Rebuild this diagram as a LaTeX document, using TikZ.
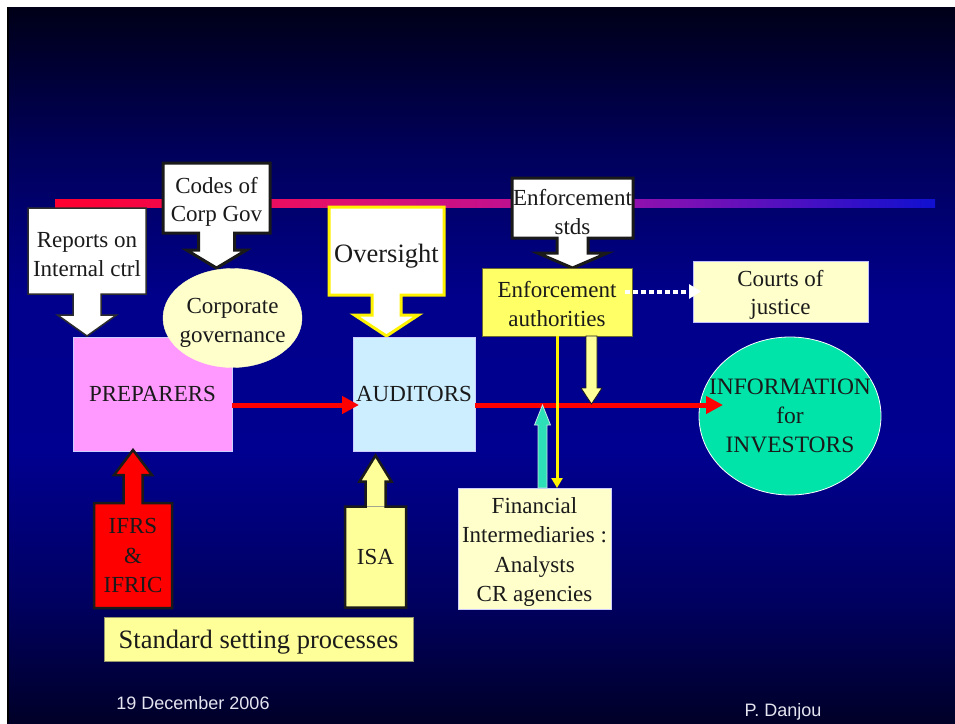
\documentclass[tikz,border=0pt]{standalone}
\usepackage{fontspec}
\setmainfont{Liberation Serif}
\newfontfamily\footfont{Liberation Sans}
\usetikzlibrary{calc,arrows.meta,shapes.geometric}

% palette
\definecolor{ink}{HTML}{1A1A1A}
\definecolor{bgA}{RGB}{0,0,24}
\definecolor{bgB}{RGB}{0,0,90}
\definecolor{bgC}{RGB}{0,0,140}
\definecolor{bgD}{RGB}{0,0,144}
\definecolor{bgE}{RGB}{0,0,96}
\definecolor{bgF}{RGB}{0,0,40}
\definecolor{barA}{HTML}{FF0030}
\definecolor{barB}{HTML}{E4106A}
\definecolor{barC}{HTML}{C4108C}
\definecolor{barD}{HTML}{8C10B0}
\definecolor{barE}{HTML}{1010D0}
\definecolor{pinkfill}{HTML}{FF99FF}
\definecolor{bluefill}{HTML}{CCEEFF}
\definecolor{creamfill}{HTML}{FFFFCC}
\definecolor{paleyellow}{HTML}{FFFF99}
\definecolor{brightyellow}{HTML}{FFFF66}
\definecolor{infofill}{RGB}{0,228,170}
\definecolor{tealarrow}{RGB}{46,224,184}
\definecolor{olive}{HTML}{6A6A30}
\definecolor{footgrey}{HTML}{E4E4F0}

% slide background: dark at the top, deep blue in the middle, dark again at the bottom
\pgfdeclareverticalshading{slidebg}{100bp}{color(0bp)=(bgF); color(25bp)=(bgF);
  color(33.5bp)=(bgE); color(44bp)=(bgD); color(54.5bp)=(bgC); color(65bp)=(bgB);
  color(75bp)=(bgA); color(100bp)=(bgA)}
% title rule: red to blue
\pgfdeclarehorizontalshading{barshade}{100bp}{color(0bp)=(barA); color(25bp)=(barA);
  color(40bp)=(barB); color(50bp)=(barC); color(58.5bp)=(barD);
  color(75bp)=(barE); color(100bp)=(barE)}

% zero-width strut on a first line: pushes a text block down a little
\newcommand\strutto[1]{\rule{0pt}{#1}}

% block-arrow outline around a rectangular node:
% #1 node, #2 side carrying the arrow, #3 opposite side,
% #4 shaft half width, #5 head half width, #6 shaft length, #7 head length,
% #8 fill colour, #9 outline style
\newcommand\callout[9]{%
  \fill[#8] ($(#1.#2)+(-#4,0)$) -- ($(#1.#2)+(-#4,#6)$) -- ($(#1.#2)+(-#5,#6)$)
    -- ($(#1.#2)+(0,#6+#7)$) -- ($(#1.#2)+(#5,#6)$) -- ($(#1.#2)+(#4,#6)$)
    -- ($(#1.#2)+(#4,0)$) -- cycle;
  \draw[#9] (#1.#2 east) -- (#1.#3 east) -- (#1.#3 west) -- (#1.#2 west)
    -- ($(#1.#2)+(-#4,0)$) -- ($(#1.#2)+(-#4,#6)$) -- ($(#1.#2)+(-#5,#6)$)
    -- ($(#1.#2)+(0,#6+#7)$) -- ($(#1.#2)+(#5,#6)$) -- ($(#1.#2)+(#4,#6)$)
    -- ($(#1.#2)+(#4,0)$) -- cycle;}

% vertical block arrow from #1 to #2: #3 shaft half width, #4 head half width,
% #5 head length (canvas units, signed), #6 style
\newcommand\vblock[6]{%
  \path[#6] let \p1=(#1), \p2=(#2) in
    ({\x1-#3},\y1) -- ({\x1-#3},{\y2+(#5)}) -- ({\x1-#4},{\y2+(#5)}) -- (\x2,\y2)
    -- ({\x1+#4},{\y2+(#5)}) -- ({\x1+#3},{\y2+(#5)}) -- ({\x1+#3},\y1) -- cycle;}

\begin{document}
\begin{tikzpicture}[x=1pt,y=-1pt,
  base/.style={inner sep=0pt, outer sep=0pt, text=ink, align=center,
    font=\fontsize{23}{28.5}\selectfont},
  thinedge/.style={draw=#1, line width=0.8pt},
  heavyedge/.style={draw=ink, line width=3pt, line join=miter},
  redflow/.style={draw=red, line width=5pt, -{Triangle[length=17pt,width=17pt]}},
  footer/.style={inner sep=0pt, text=footgrey, font=\footfont\fontsize{18}{20}\selectfont}]

\useasboundingbox (0,0) rectangle (955,723);
\fill[white] (0,0) rectangle (955,723);
\shade[shading=slidebg] (7,7) rectangle (955,723);
\fill[black] (7,7) rectangle (9,723);
\shade[shading=barshade] (55,199) rectangle (935,207.5);

% callouts pointing down
\node[base, fill=white, minimum width=118pt, minimum height=86pt] (rep) at (87,251)
  {\strutto{22pt}Reports on\\Internal ctrl};
\callout{rep}{south}{north}{14}{29.5}{21}{21}{white}{draw=gray!35!black, line width=1.5pt, line join=miter}

\node[base, fill=white, minimum width=107pt, minimum height=70pt] (codes) at (216.5,198)
  {\strutto{24pt}Codes of\\Corp Gov};
\callout{codes}{south}{north}{18}{30}{17}{18}{white}{heavyedge}

\node[base, fill=white, minimum width=115pt, minimum height=88pt,
  font=\fontsize{26.5}{30}\selectfont] (over) at (386.5,251) {\strutto{28pt}Oversight};
\callout{over}{south}{north}{14.5}{32}{20}{21}{white}{draw=yellow, line width=3pt, line join=miter}

\node[base, fill=white, minimum width=121pt, minimum height=60pt] (enfstd) at (572.5,208)
  {\strutto{24pt}Enforcement\\stds};
\callout{enfstd}{south}{north}{15.5}{35}{15}{15}{white}{heavyedge}

% boxes
\node[base, fill=brightyellow, thinedge=olive, minimum width=150pt, minimum height=68pt]
  (auth) at (557,302) {\strutto{20pt}Enforcement\\authorities};
\node[base, fill=creamfill, thinedge={white!75!blue}, minimum width=175pt, minimum height=61pt]
  (courts) at (780.5,291.5) {\strutto{23pt}Courts of\\justice};
\node[base, fill=pinkfill, thinedge={white!80!blue}, minimum width=159pt, minimum height=114pt]
  (prep) at (152.5,394) {PREPARERS};
\node[ellipse, inner sep=0pt, outer sep=0pt, fill=creamfill, draw=creamfill,
  minimum width=139pt, minimum height=99pt] (cg) at (232.5,318) {};
\node[base] (cg-text) at (cg.center) {\strutto{25pt}Corporate\\governance};
\node[base, fill=bluefill, thinedge={white!80!blue}, minimum width=122pt, minimum height=114pt]
  (aud) at (414,394) {AUDITORS};
\node[ellipse, inner sep=0pt, outer sep=0pt, fill=infofill, thinedge=white,
  minimum width=182pt, minimum height=158pt] (info) at (790,416) {};
\node[base, font=\fontsize{23.5}{29}\selectfont] (info-text) at (info.center)
  {INFORMATION\\for\\INVESTORS};
\node[base, fill=creamfill, thinedge={white!80!blue}, minimum width=153pt, minimum height=121pt,
  font=\fontsize{23}{29.3}\selectfont] (fin) at (534.5,548.5)
  {\strutto{23pt}Financial\\Intermediaries :\\Analysts\\CR agencies};

% main information flow
\coordinate (flow) at (0,405);
\draw[redflow, shorten >=-6pt] (prep.east |- flow) -- (aud.west |- flow);
\draw[redflow, shorten >=-24pt] (aud.east |- flow) -- (info.west |- flow);

% enforcement and intermediaries acting on the flow
\coordinate (ytip) at (591.5,404);
\vblock{auth.south -| ytip}{ytip}{5.5}{10.5}{16}{fill=paleyellow, draw=ink, line width=0.8pt}
\coordinate (ttip) at (542.5,405);
\vblock{fin.north -| ttip}{ttip}{4.5}{8}{-20}{fill=tealarrow, draw={white!80!teal}, line width=0.8pt}
\draw[yellow, line width=3pt, -{Triangle[length=10pt,width=11pt]}]
  (auth.south) -- (auth.south |- fin.north);
\draw[white, line width=4pt, dash pattern=on 5pt off 3pt,
  -{Triangle[length=12pt,width=14pt]}, shorten <=-7pt, shorten >=-8pt]
  (auth.east |- courts.west) -- (courts.west);

% standards pointing up
\node[base, fill=red, minimum width=78pt, minimum height=105pt,
  font=\fontsize{23}{29.5}\selectfont] (ifrs) at (133,555.5) {IFRS\\\&\\IFRIC};
\callout{ifrs}{north}{south}{9.5}{19}{-28}{-25}{red}{draw=ink, line width=2.5pt, line join=miter}
\node[base, fill=paleyellow, minimum width=61pt, minimum height=101pt] (isa) at (375.5,557) {ISA};
\callout{isa}{north}{south}{10}{16}{-25}{-26}{paleyellow}{draw=ink, line width=2.5pt, line join=miter}

\node[base, fill=paleyellow, thinedge={olive!70!white}, minimum width=309pt, minimum height=44pt,
  font=\fontsize{26.5}{30}\selectfont] (std) at (258.5,639) {\strutto{24pt}Standard setting processes};

% footer
\node[footer] (date) at (193,703) {19 December 2006};
\node[footer] (author) at (783,712) {P. Danjou};
\end{tikzpicture}
\end{document}
